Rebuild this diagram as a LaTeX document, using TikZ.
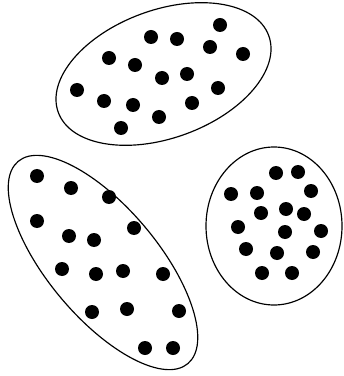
\documentclass[tikz,border=0pt]{standalone}

\begin{document}
\begin{tikzpicture}[x=0.03cm,y=-0.03cm,
blob/.style={draw,line width=1pt},
dot/.style={fill=black}]
\useasboundingbox (0,0) rectangle (343,376);
% the three clusters
\draw[blob,rotate around={20:(163.5,74)}] (163.5,74) ellipse (112 and 64);
\draw[blob,rotate around={-50:(103,262.5)}] (103,262.5) ellipse (132 and 55);
\draw[blob] (274,226) ellipse (68 and 79);
% top cluster
\foreach \p in {(220,25),(151,37),(177,39),(210,47),(243,54),(109,58),(135,65),(162,78),
  (187,74),(77,90),(218,88),(104,101),(133,105),(192,103),(159,117),(121,128)}
  \fill[dot] \p circle (7);
% left cluster
\foreach \p in {(37,176),(71,188),(109,197),(37,221),(69,236),(94,240),(134,228),(62,269),
  (96,274),(123,271),(163,274),(92,312),(127,309),(179,311),(145,348),(173,348)}
  \fill[dot] \p circle (7);
% right cluster
\foreach \p in {(276,173),(298,172),(231,194),(257,193),(311,191),(261,213),(286,209),(304,214),
  (238,227),(285,232),(321,231),(246,249),(277,253),(313,252),(262,273),(292,273)}
  \fill[dot] \p circle (7);
\end{tikzpicture}
\end{document}
